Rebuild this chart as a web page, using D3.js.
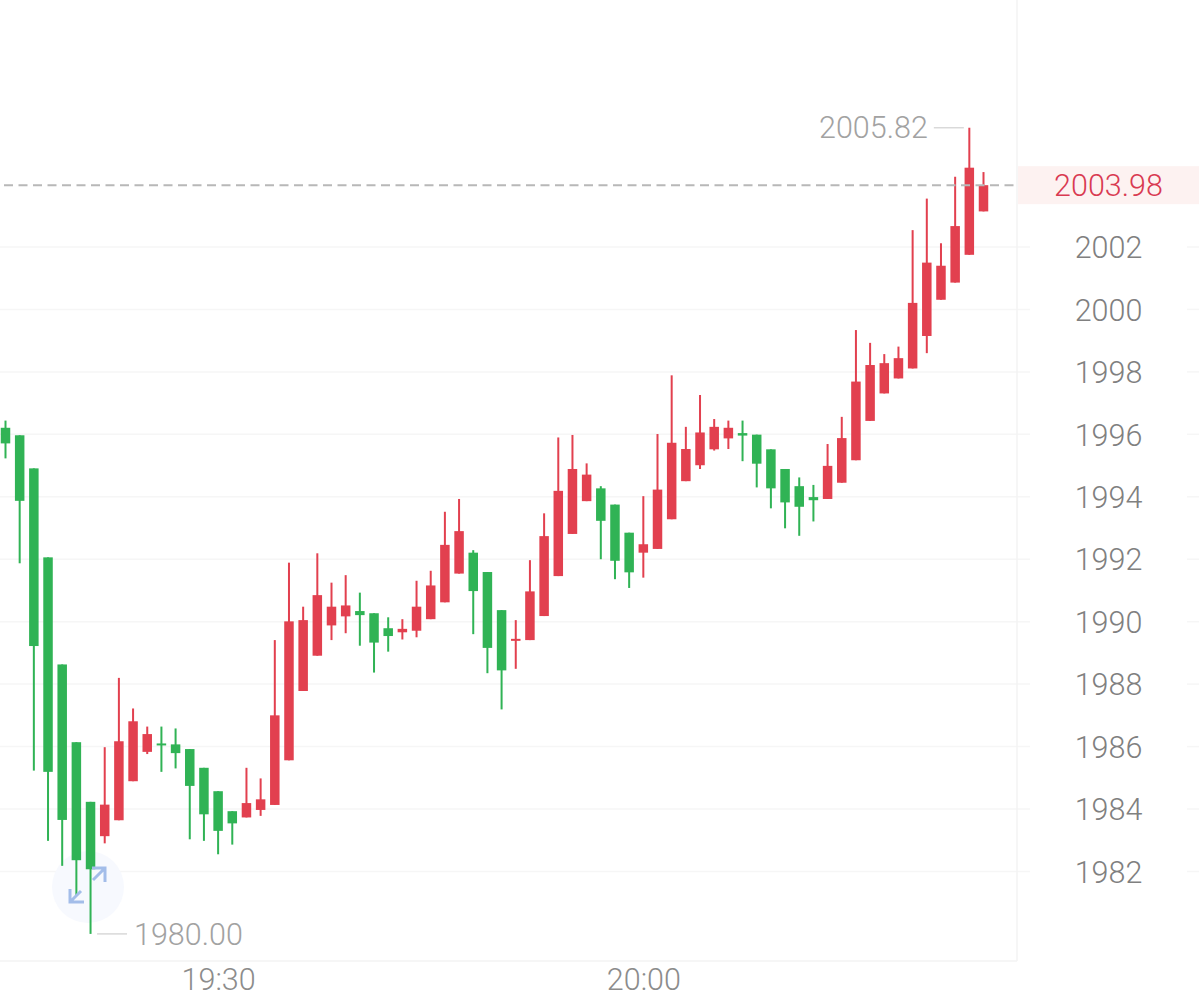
<!DOCTYPE html>
<html>
<head>
<meta charset="utf-8">
<script src="https://cdn.jsdelivr.net/npm/d3@7/dist/d3.min.js"></script>
<style>
html,body{margin:0;padding:0;background:#fff;overflow:hidden}
svg{display:block}
text{font-family:Roboto,"Open Sans",sans-serif;font-weight:300}
</style>
</head>
<body>
<svg id="chart" width="1199" height="996"></svg>
<script>
const opens = [
1996.21,1995.97,1994.91,1992.06,1988.63,1986.14,1984.23,1983.13,1983.64,1984.89,
1985.83,1986.10,1986.07,1985.92,1985.32,1984.57,1983.93,1983.73,1983.97,1984.13,
1985.56,1987.78,1988.91,1989.88,1990.17,1990.34,1990.27,1989.79,1989.66,1989.71,
1990.08,1990.62,1991.54,1992.21,1991.59,1990.37,1989.39,1989.41,1990.18,1991.46,
1992.81,1993.86,1994.27,1993.75,1992.85,1992.21,1992.33,1993.28,1994.50,1995.01,
1995.52,1995.87,1996.04,1995.99,1995.52,1994.89,1994.34,1993.99,1993.93,1994.45,
1995.17,1996.43,1997.31,1997.79,1998.11,1999.15,2000.31,2000.86,2001.75,2003.14];
const closes = [
1995.71,1993.87,1989.22,1985.19,1983.65,1982.36,1982.07,1984.14,1986.17,1986.81,
1986.40,1986.05,1985.79,1984.74,1983.83,1983.30,1983.54,1984.19,1984.31,1987.00,
1990.01,1990.05,1990.85,1990.48,1990.52,1990.21,1989.33,1989.54,1989.77,1990.48,
1991.16,1992.46,1992.90,1990.98,1989.16,1988.44,1989.45,1990.97,1992.74,1994.19,
1994.89,1994.71,1993.23,1991.95,1991.58,1992.48,1994.23,1995.73,1995.53,1996.06,
1996.24,1996.21,1995.96,1995.06,1994.27,1993.82,1993.68,1993.89,1994.99,1995.88,
1997.69,1998.22,1998.28,1998.44,2000.21,2001.50,2001.40,2002.67,2004.54,2003.98];
const highs = [
1996.44,1995.97,1994.91,1992.06,1988.63,1986.14,1984.23,1985.98,1988.20,1987.22,
1986.64,1986.64,1986.58,1985.92,1985.32,1984.57,1983.93,1985.32,1984.98,1989.41,
1991.89,1990.48,1992.19,1991.25,1991.49,1990.93,1990.27,1990.14,1990.08,1991.31,
1991.63,1993.52,1993.93,1992.29,1991.59,1990.37,1990.05,1991.97,1993.47,1995.90,
1995.98,1995.07,1994.34,1993.75,1992.85,1994.02,1996.01,1997.89,1996.24,1997.26,
1996.49,1996.44,1996.44,1995.99,1995.52,1994.89,1994.62,1994.38,1995.69,1996.56,
1999.34,1998.93,1998.57,1998.81,2002.54,2003.55,2002.12,2004.25,2005.82,2004.40];
const lows = [
1995.23,1991.87,1985.23,1982.98,1982.18,1981.24,1980.00,1982.90,1983.64,1984.89,
1985.76,1985.19,1985.30,1983.03,1982.98,1982.55,1982.86,1983.73,1983.78,1984.13,
1985.56,1987.78,1988.91,1989.41,1989.63,1989.23,1988.37,1989.04,1989.43,1989.50,
1990.08,1990.62,1991.54,1989.60,1988.35,1987.19,1988.49,1989.41,1990.18,1991.46,
1992.81,1993.86,1992.00,1991.36,1991.08,1991.41,1992.33,1993.28,1994.50,1994.89,
1995.48,1995.53,1995.14,1994.30,1993.63,1992.99,1992.75,1993.21,1993.93,1994.45,
1995.17,1996.43,1997.31,1997.79,1998.11,1998.60,2000.31,2000.86,2001.75,2003.14];

const yTicks = [1982,1984,1986,1988,1990,1992,1994,1996,1998,2000,2002];
const xTickLabels = ["19:30","20:00"];
const startTime = "19:15";
const endTime = "20:24";
const lastPrice = 2003.98;
const maxPrice = 2005.82;
const minPrice = 1980.00;

const RED = "#e2404f", GREEN = "#30b355";
const parse = d3.utcParse("%H:%M"), fmt = d3.utcFormat("%H:%M");
const times = d3.utcMinute.range(parse(startTime), d3.utcMinute.offset(parse(endTime), 1));

const svg = d3.select("#chart");
const x = d3.scaleUtc().domain([parse(startTime), parse(endTime)]).range([5.5, 983.5]);
const y = d3.scaleLinear().domain([1980, 2002]).range([933.9, 247]);

const PLOT_R = 1017, PLOT_B = 961;
const FS = 30.5;

const grid = svg.append("g");
grid.selectAll("line.a").data(yTicks).join("line").attr("class","a")
  .attr("x1",0).attr("x2",1030).attr("y1",d=>y(d)).attr("y2",d=>y(d))
  .attr("stroke","#f6f6f6").attr("stroke-width",1.5);
grid.selectAll("line.b").data(yTicks).join("line").attr("class","b")
  .attr("x1",1187).attr("x2",1199).attr("y1",d=>y(d)).attr("y2",d=>y(d))
  .attr("stroke","#f6f6f6").attr("stroke-width",1.5);

svg.append("line").attr("x1",PLOT_R).attr("x2",PLOT_R).attr("y1",0).attr("y2",PLOT_B)
  .attr("stroke","#f3f3f3").attr("stroke-width",1.5);
svg.append("line").attr("x1",0).attr("x2",PLOT_R).attr("y1",PLOT_B).attr("y2",PLOT_B)
  .attr("stroke","#f3f3f3").attr("stroke-width",1.5);

svg.append("circle").attr("cx",88).attr("cy",887).attr("r",36).attr("fill","#f7f9fe");

const candles = svg.append("g").selectAll("g").data(times).join("g")
  .attr("fill",(d,i)=>closes[i]>=opens[i]?RED:GREEN);
candles.append("rect")
  .attr("x",d=>x(d)-1).attr("width",2)
  .attr("y",(d,i)=>y(highs[i])).attr("height",(d,i)=>y(lows[i])-y(highs[i]));
candles.append("rect")
  .attr("x",d=>x(d)-4.75).attr("width",9.5)
  .attr("y",(d,i)=>y(Math.max(opens[i],closes[i])))
  .attr("height",(d,i)=>Math.max(2,Math.abs(y(opens[i])-y(closes[i]))));

const hint = svg.append("g").attr("fill","none").attr("stroke","#a3bde9").attr("stroke-width",3);
hint.append("path").attr("d","M70 889V902H84M70 902L81 891");
hint.append("path").attr("d","M92 868H105V882M105 868L93 880");

const yAxis = d3.axisRight(y).tickValues(yTicks).tickSize(0).tickPadding(0).tickFormat(d3.format("d"));
const yG = svg.append("g").attr("transform","translate(1108.5,0)").call(yAxis);
yG.select(".domain").remove();
yG.selectAll("text").attr("text-anchor","middle").attr("fill","#808080").attr("font-size",FS).attr("dy","0.35em")
  .style("font-family",'Roboto,sans-serif');

const xAxis = d3.axisBottom(x).tickValues(xTickLabels.map(parse)).tickSize(0).tickPadding(0).tickFormat(fmt);
const xG = svg.append("g").attr("transform","translate(0,979)").call(xAxis);
xG.select(".domain").remove();
xG.selectAll("text").attr("fill","#8c8c8c").attr("font-size",FS).attr("dy","0.35em")
  .style("font-family",'Roboto,sans-serif');

svg.append("rect").attr("x",1018).attr("width",181).attr("y",y(lastPrice)-19).attr("height",38).attr("fill","#fdf2f1");
svg.append("line").attr("x1",0).attr("x2",1014).attr("y1",y(lastPrice)).attr("y2",y(lastPrice))
  .attr("stroke","#b8b8b8").attr("stroke-width",2).attr("stroke-dasharray","9 5.5").attr("stroke-dashoffset",10.5);
svg.append("text").attr("x",1108.5).attr("y",y(lastPrice)).attr("dy","0.35em").attr("text-anchor","middle")
  .attr("fill","#d93a52").attr("font-size",FS).text(lastPrice.toFixed(2));

const iMax = highs.indexOf(maxPrice), iMin = lows.indexOf(minPrice);
svg.append("line").attr("x1",x(times[iMax])-35.5).attr("x2",x(times[iMax])-5.5).attr("y1",y(maxPrice)).attr("y2",y(maxPrice))
  .attr("stroke","#d9d9d9").attr("stroke-width",1.5);
svg.append("text").attr("x",x(times[iMax])-41.5).attr("y",y(maxPrice)).attr("dy","0.35em").attr("text-anchor","end")
  .attr("fill","#a2a2a2").attr("font-size",FS).text(maxPrice.toFixed(2));
svg.append("line").attr("x1",x(times[iMin])+6.5).attr("x2",x(times[iMin])+36.5).attr("y1",y(minPrice)).attr("y2",y(minPrice))
  .attr("stroke","#d9d9d9").attr("stroke-width",1.5);
svg.append("text").attr("x",x(times[iMin])+43.5).attr("y",y(minPrice)).attr("dy","0.35em").attr("text-anchor","start")
  .attr("fill","#a2a2a2").attr("font-size",FS).text(minPrice.toFixed(2));
</script>
</body>
</html>
